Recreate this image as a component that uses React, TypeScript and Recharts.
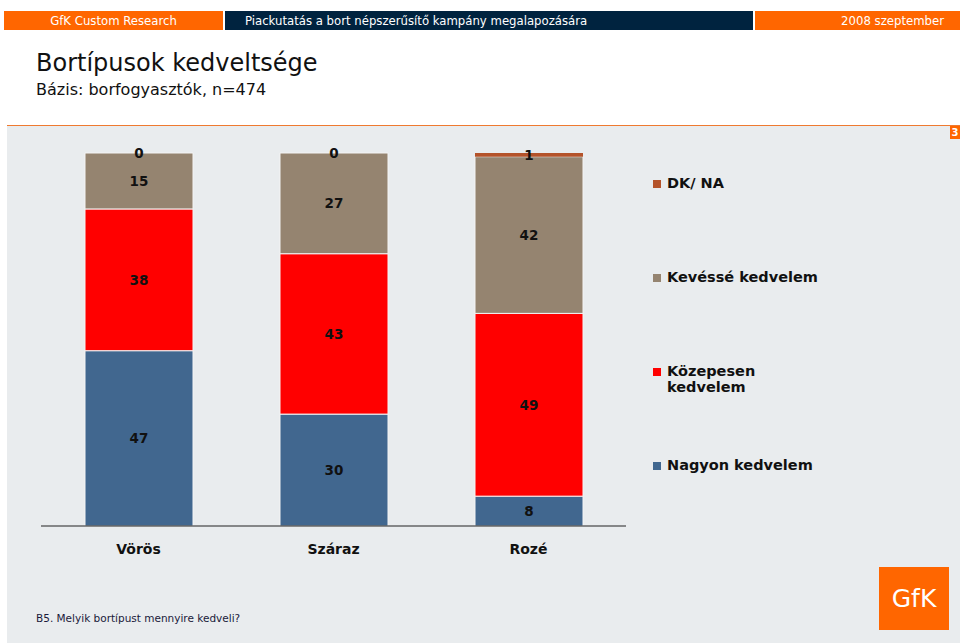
import { BarChart, Bar, XAxis, YAxis, Legend, LabelList } from "recharts";

const categories = ["Vörös", "Száraz", "Rozé"];
const nagyon = [47, 30, 8];
const kozepesen = [38, 43, 49];
const kevesse = [15, 27, 42];
const dkna = [0, 0, 1];

const seriesNames = {
  nagyon: "Nagyon kedvelem",
  kozepesen: "Közepesen kedvelem",
  kevesse: "Kevéssé kedvelem",
  dkna: "DK/ NA",
};

const colors = {
  nagyon: "#41678f",
  kozepesen: "#ff0000",
  kevesse: "#958470",
  dkna: "#b4532a",
};

const data = categories.map((name, i) => ({
  name,
  nagyon: nagyon[i],
  kozepesen: kozepesen[i],
  kevesse: kevesse[i],
  dkna: dkna[i],
}));

const FONT = "'DejaVu Sans', Verdana, sans-serif";
const ORANGE = "#ff6600";

const labelStyle = {
  fill: "#111",
  fontSize: 13.5,
  fontWeight: "bold" as const,
  fontFamily: FONT,
};

const LegendContent = ({ payload }: any) => {
  const items = payload || [];
  return (
    <div style={{ fontFamily: FONT, fontWeight: "bold", fontSize: 14.5, color: "#111" }}>
      {items.map((p: any) => (
        <div key={p.value} style={{ height: 94, display: "flex", alignItems: "flex-start" }}>
          <span
            style={{
              width: 8,
              height: 8,
              background: p.color,
              marginTop: 5,
              marginRight: 6,
              flex: "none",
            }}
          />
          <span style={{ maxWidth: 160, lineHeight: "16px" }}>{p.value}</span>
        </div>
      ))}
    </div>
  );
};

const segments = ["nagyon", "kozepesen", "kevesse", "dkna"] as const;

export default function App() {
  return (
    <div
      style={{
        position: "fixed",
        left: 0,
        top: 0,
        width: 960,
        height: 643,
        background: "#fff",
        overflow: "hidden",
      }}
    >
      {/* header strip */}
      <div style={{ position: "absolute", top: 11, left: 4, width: 219, height: 19, background: ORANGE, color: "#fff", fontFamily: "'DejaVu Sans Condensed', Tahoma, sans-serif", fontSize: 13, lineHeight: "19px", textAlign: "center" }}>
        GfK Custom Research
      </div>
      <div style={{ position: "absolute", top: 11, left: 225, width: 528, height: 19, background: "#00233f", color: "#fff", fontFamily: "'DejaVu Sans Condensed', Tahoma, sans-serif", fontSize: 13, lineHeight: "19px", paddingLeft: 20, boxSizing: "border-box" }}>
        Piackutatás a bort népszerűsítő kampány megalapozására
      </div>
      <div style={{ position: "absolute", top: 11, left: 755, width: 205, height: 19, background: ORANGE, color: "#fff", fontFamily: "'DejaVu Sans Condensed', Tahoma, sans-serif", fontSize: 13, lineHeight: "19px", textAlign: "right", paddingRight: 16, boxSizing: "border-box" }}>
        2008 szeptember
      </div>

      {/* title */}
      <div style={{ position: "absolute", top: 48, left: 36, fontFamily: FONT, fontSize: 24, color: "#111", lineHeight: "30px" }}>
        Bortípusok kedveltsége
      </div>
      <div style={{ position: "absolute", top: 80, left: 36, fontFamily: FONT, fontSize: 16, color: "#111", lineHeight: "20px" }}>
        Bázis: borfogyasztók, n=474
      </div>

      {/* body panel */}
      <div style={{ position: "absolute", top: 125, left: 7, right: 0, height: 1.5, background: "#ef7a30" }} />
      <div style={{ position: "absolute", top: 126, left: 7, right: 0, bottom: 0, background: "#e9ecee" }} />
      <div style={{ position: "absolute", top: 126, left: 950, width: 10, height: 13, background: ORANGE, color: "#fff", fontFamily: FONT, fontSize: 10, fontWeight: "bold", lineHeight: "13px", textAlign: "center" }}>
        3
      </div>

      <div style={{ position: "absolute", left: 0, top: 0 }}>
        <BarChart
          width={960}
          height={643}
          data={data}
          margin={{ top: 153, left: 41, right: 334, bottom: 87 }}
          barSize={108}
        >
          <YAxis hide domain={[0, 100]} />
          <XAxis
            dataKey="name"
            height={30}
            stroke="#222"
            axisLine={{ stroke: "#222", strokeWidth: 1 }}
            tickLine={false}
            tickMargin={12}
            tick={{ fill: "#111", fontSize: 14, fontWeight: "bold", fontFamily: FONT }}
          />
          <Legend
            layout="vertical"
            verticalAlign="middle"
            align="center"
            content={<LegendContent />}
            wrapperStyle={{ position: "absolute", left: 653, top: 175, width: 200 }}
          />
          {segments.map((key) => (
            <Bar
              key={key}
              dataKey={key}
              name={seriesNames[key]}
              stackId="a"
              fill={colors[key]}
              stroke={key === "dkna" ? "none" : "#f4f4f4"}
              strokeWidth={1}
              minPointSize={key === "dkna" ? 0.01 : 0}
              isAnimationActive={false}
            >
              <LabelList dataKey={key} position="center" style={labelStyle} />
            </Bar>
          ))}
        </BarChart>
      </div>

      {/* footnote */}
      <div style={{ position: "absolute", top: 612, left: 36, fontFamily: FONT, fontSize: 10.5, color: "#1a1a3a" }}>
        B5. Melyik bortípust mennyire kedveli?
      </div>

      {/* GfK logo */}
      <div style={{ position: "absolute", top: 567, left: 879, width: 70, height: 63, background: ORANGE, color: "#fff", fontFamily: "'DejaVu Sans', Tahoma, sans-serif", fontSize: 25, lineHeight: "63px", textAlign: "center" }}>
        GfK
      </div>
    </div>
  );
}
